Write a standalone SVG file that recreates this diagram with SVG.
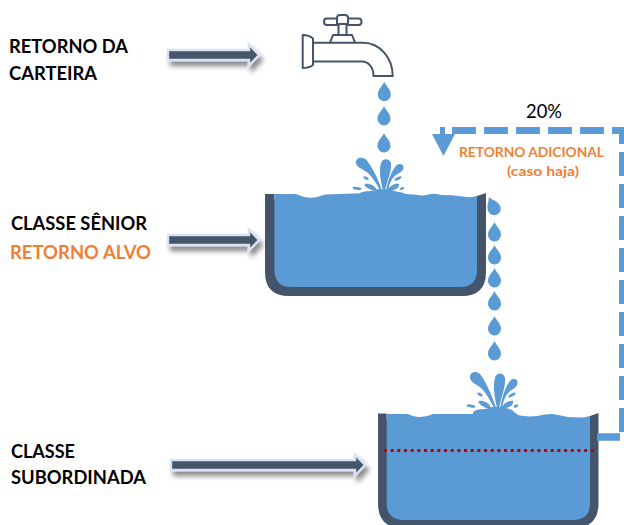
<svg xmlns="http://www.w3.org/2000/svg" width="624" height="525" viewBox="0 0 624 525">
<style>
text{font-family:Lato,"Liberation Sans",Arial,sans-serif}
.b{font-weight:700;font-size:18px;fill:#000}
.o{font-weight:700;fill:#f07f35}
.w{fill:#5b9bd5}
.t{fill:#44546a}
.f{fill:#fff;stroke:#44546a;stroke-width:2;stroke-linejoin:round}
.a{fill:#44546a;stroke:#d9e2f3;stroke-width:2.4;filter:url(#sh)}
.d{fill:none;stroke:#5b9bd5;stroke-width:7;stroke-dasharray:24 8}
</style>
<defs>
<filter id="sh" x="-10%" y="-80%" width="125%" height="300%">
<feGaussianBlur in="SourceAlpha" stdDeviation="2.5"/>
<feOffset dx="3" dy="5"/>
<feComponentTransfer><feFuncA type="linear" slope="0.45"/></feComponentTransfer>
<feMerge><feMergeNode/><feMergeNode in="SourceGraphic"/></feMerge>
</filter>
<path id="drop" class="w" d="M0-10C2-5 6.5-3 6.5 3A6.5 6.5 0 0 1-6.5 3C-6.5-3-2-5 0-10Z"/>
<g id="splash" class="w">
<path d="M496 408C492 395 485 380 480 374C476 370 469 372 470 378C471 383 478 385 482 389C487 394 491 402 494 408Z"/>
<path d="M497 408C494 395 493 385 495 378C496 372 504 372 505 378C506 385 502 395 499 408Z"/>
<path d="M500 408C502 398 505 387 510 381C513 377 518 379 517.5 383C517 388 512 389 509 392C505 396 503 402 502 408Z"/>
<path d="M491 408C489 402 482 400 479 401C477 403 482 406 486 408Z"/>
<path d="M501 408C504 403 509 400 513 401C514 404 510 408 505 408Z"/>
<ellipse cx="480" cy="394.5" rx="3" ry="1.5" transform="rotate(30 480 394.5)"/>
<ellipse cx="512" cy="395" rx="4" ry="1.5" transform="rotate(-30 512 395)"/>
<ellipse cx="471" cy="406" rx="4.5" ry="1.5" transform="rotate(10 471 406)"/>
<ellipse cx="516" cy="406" rx="2.5" ry="1.3" transform="rotate(-30 516 406)"/>
<path d="M473 412Q476 409 485 409L492 407H503L512 410Q515 413 518 415H473Z"/>
</g>
</defs>

<g id="label-carteira"><text class="b" x="9" y="53" textLength="119" lengthAdjust="spacingAndGlyphs">RETORNO DA</text><text class="b" x="9" y="80" textLength="88" lengthAdjust="spacingAndGlyphs">CARTEIRA</text></g>
<g id="label-senior"><text class="b" x="11" y="230" textLength="136" lengthAdjust="spacingAndGlyphs">CLASSE SÊNIOR</text><text class="b o" x="10" y="259" textLength="141" lengthAdjust="spacingAndGlyphs">RETORNO ALVO</text></g>
<g id="label-subordinada"><text class="b" x="11" y="458" textLength="64" lengthAdjust="spacingAndGlyphs">CLASSE</text><text class="b" x="11" y="484" textLength="135" lengthAdjust="spacingAndGlyphs">SUBORDINADA</text></g>

<g id="faucet">
<rect class="f" x="324" y="18.5" width="37.5" height="6.5" rx="3"/>
<path class="f" d="M337 24V18Q337 15 340 15H345Q348 15 348 18V24"/>
<rect class="f" x="338.5" y="24" width="8" height="11"/>
<path class="f" d="M330 42.7L333 35H352L355 42.7"/>
<path class="f" d="M313 42.7H363C380 42.7 392.7 58 392.7 76H373.5C373.5 68 369 61.5 362 61.5H313Z"/>
<path class="f" d="M302.7 35Q309 35 313 38.5V65Q309 68 302.7 68Z"/>
</g>

<g id="drops">
<use href="#drop" transform="translate(384.3 91.7)"/>
<use href="#drop" transform="translate(384 116)"/>
<use href="#drop" transform="translate(384 143)"/>
<use href="#drop" transform="translate(493 206) rotate(-25)"/>
<use href="#drop" transform="translate(494.5 232)"/>
<use href="#drop" transform="translate(494.5 255)"/>
<use href="#drop" transform="translate(494.5 278)"/>
<use href="#drop" transform="translate(494.5 301)"/>
<use href="#drop" transform="translate(494.5 326)"/>
<use href="#drop" transform="translate(494.5 351)"/>
</g>

<g id="tank-senior">
<path class="t" d="M265 194H275L477 196L486 193V272Q486 296 462 296H289Q265 296 265 272Z"/>
<rect x="274.5" y="188" width="202.5" height="12" fill="#fff"/>
<path class="w" d="M274.5 194H296Q310 201 325 194.5L400 192Q407 195 415 194.5Q422 196 427 195Q432 193 437 194Q443 196 450 195Q458 196 467 197Q472 197.5 477 196V270Q477 287 460 287H291Q274.5 287 274.5 270Z"/>
<use href="#splash" transform="translate(382 192) scale(1 .9) translate(-496 -410)"/>
</g>

<g id="tank-subordinada">
<path class="t" d="M378 413.5H387L590 416L598.5 413V503Q598.5 528 574 528H402Q378 528 378 503Z"/>
<rect x="386.7" y="408" width="203.3" height="12" fill="#fff"/>
<path class="w" d="M386.7 414H408Q414 417.5 420 417Q427 417 433 414H513Q525 417.5 537 416Q545 414 553 414Q568 418 583 417.5L590 416V503Q590 520 573 520H404Q386.7 520 386.7 503Z"/>
<use href="#splash"/>
<path d="M384 450.5H594" fill="none" stroke="#c00000" stroke-width="3" stroke-dasharray="3 3.67"/>
</g>

<g id="connectors">
<path class="a" d="M168 50H249V44.5L259 55L249 65.5V60H168Z"/>
<path class="a" d="M168 235H249V229.5L259 240L249 250.5V245H168Z"/>
<path class="a" d="M171 460H355V454.5L365 465L355 475.5V470H171Z"/>
<path class="d" d="M622.5 432V130.5H452"/>
<path d="M597 437H620" fill="none" stroke="#5b9bd5" stroke-width="7.6"/>
<path class="w" d="M440 127H445V134H455L443.5 156L432 134H440Z"/>
</g>

<g id="label-retorno"><text x="526" y="118" font-size="20" textLength="36" lengthAdjust="spacingAndGlyphs">20%</text>
<text class="o" x="459" y="157" font-size="14" textLength="145" lengthAdjust="spacingAndGlyphs">RETORNO ADICIONAL</text>
<text class="o" x="507" y="176" font-size="14" textLength="72" lengthAdjust="spacingAndGlyphs">(caso haja)</text></g>
</svg>
